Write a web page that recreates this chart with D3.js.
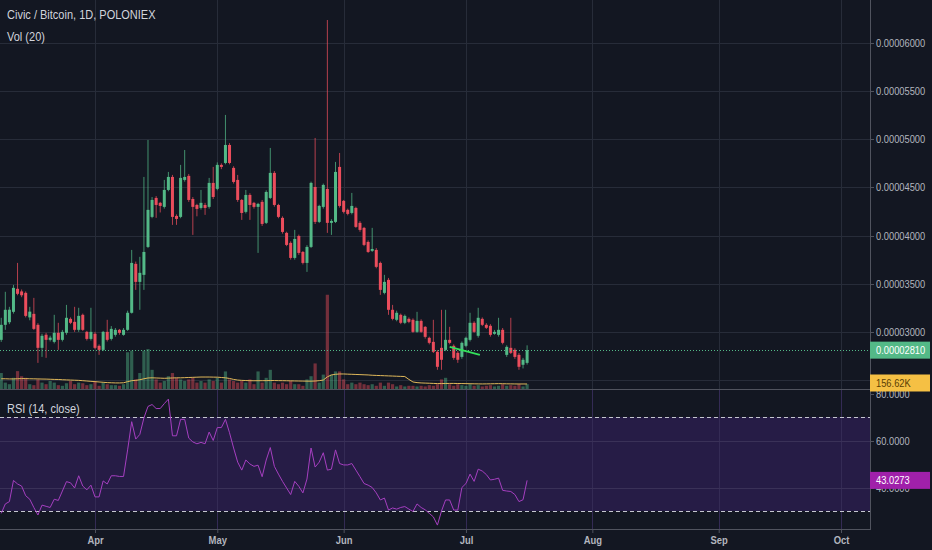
<!DOCTYPE html>
<html>
<head>
<meta charset="utf-8">
<script src="https://cdn.jsdelivr.net/npm/d3@7"></script>
<style>
html, body { margin: 0; padding: 0; background: #131722; }
svg { display: block; font-family: "Liberation Sans", Arial, sans-serif; }
</style>
</head>
<body>
<svg id="chart" width="932" height="550"></svg>
<script>
// daily candles, prices in satoshi (1e-8 BTC)
const startDate = "2018-03-09";
const opens = [2917,3073,3100,3208,3447,3420,3405,3150,3187,3073,
  2834,2970,2917,2896,2990,2917,2990,3135,3104,3021,
  3177,3000,2927,2980,2855,2813,3000,2927,2969,3021,
  2969,3021,3198,3706,3519,3592,3882,4194,4391,4340,
  4298,4474,4609,4204,4194,4578,4620,4380,4318,4287,
  4318,4298,4547,4485,4734,4754,4941,4703,4578,4370,
  4246,4422,4340,4298,4350,4132,4391,4651,4318,4184,
  4028,3924,3768,3996,3830,3716,3882,4505,4142,4298,
  4484,4132,4142,4713,4360,4267,4235,4287,4132,4080,
  3934,3841,3851,3716,3405,3540,3229,3125,3177,3094,
  3135,3125,3000,3114,3052,2938,2896,2793,2834,2813,
  2917,2855,2782,2740,2855,2917,3094,2959,3135,3073,
  3063,2980,2969,3021,2761,2834,2813,2761,2658,2678];
const highs = [3146,3416,3260,3488,3716,3440,3420,3260,3353,3090,
  2980,2990,2960,3177,3094,3020,3280,3150,3260,3250,
  3190,3010,3250,3000,2870,3010,3125,3060,3040,3030,
  3040,3220,3851,3730,3779,4609,4993,4400,4410,4350,
  4578,4661,4630,4220,4734,4889,4640,4400,4330,4474,
  4340,4599,4713,4760,4750,5253,4960,4720,4630,4380,
  4474,4440,4350,4340,4370,4470,4910,4670,4330,4200,
  4040,3940,4059,4010,3840,3900,4560,5014,4320,4540,
  6239,4170,4765,4858,4370,4280,4443,4300,4150,4090,
  3950,4080,3870,3730,3592,3560,3280,3220,3190,3180,
  3150,3140,3208,3130,3060,2950,3125,2810,3229,3229,
  3052,2870,2800,2900,2950,3198,3110,3250,3150,3090,
  3080,3020,3146,3040,2860,3146,2830,2780,2730,2860];
const lows = [2896,3021,3080,3190,3380,3360,3150,3120,3020,2678,
  2740,2730,2900,2880,2813,2900,2970,3080,3000,3000,
  3010,2910,2910,2820,2761,2800,2900,2910,2950,2970,
  2960,3010,3190,3436,3229,3436,3870,4180,4184,4240,
  4280,4460,4111,4111,4180,4560,4350,4007,4200,4270,
  4215,4280,4380,4470,4690,4740,4740,4540,4350,4163,
  4230,4163,4280,3820,4100,4120,4380,4300,4180,4020,
  3890,3750,3750,3800,3700,3623,3870,4120,4130,4280,
  4028,4007,4130,4290,4230,4210,4220,4080,4040,3890,
  3820,3830,3660,3384,3390,3177,3120,3110,3080,3080,
  3090,2990,2990,2990,2930,2870,2780,2606,2606,2800,
  2870,2710,2678,2720,2840,2900,2990,2940,3060,3030,
  2950,2970,2950,2870,2740,2770,2720,2606,2620,2660];
const closes = [3073,3229,3230,3457,3395,3380,3166,3210,3031,2834,
  2959,2917,2940,2990,2917,3000,3146,3094,3021,3166,
  3021,2927,3000,2834,2813,3000,2917,3031,3021,2990,
  3021,3198,3716,3519,3613,3830,4267,4370,4318,4308,
  4474,4609,4194,4173,4599,4609,4370,4298,4277,4340,
  4287,4547,4401,4734,4713,4941,4754,4557,4370,4235,
  4422,4318,4298,4329,4121,4453,4651,4318,4194,4038,
  3903,3768,3965,3820,3716,3882,4547,4142,4308,4526,
  4132,4152,4661,4308,4246,4225,4308,4090,4059,3903,
  3830,3861,3675,3436,3519,3229,3135,3198,3094,3166,
  3104,3000,3114,3000,2948,2886,2793,2637,2710,2917,
  2886,2730,2710,2886,2938,3094,3000,3146,3073,3042,
  2969,3000,3021,2886,2844,2782,2740,2637,2710,2810];
// volume in thousands
const volumes = [500,200,150,350,560,400,350,150,120,300,
  200,150,250,200,120,100,180,250,150,200,
  180,120,150,250,100,200,150,120,120,100,
  150,1150,1200,300,500,1200,1250,600,300,200,
  250,400,500,350,300,250,300,350,200,250,
  200,300,250,350,200,550,300,250,200,250,
  200,300,150,550,200,350,600,200,150,200,
  150,250,150,150,100,300,400,800,200,450,
  2950,450,550,550,300,150,200,150,200,150,
  120,150,100,200,100,200,150,80,120,80,
  100,100,80,100,80,120,100,150,300,350,
  150,100,150,120,100,150,100,120,80,100,
  120,80,100,150,100,120,100,150,80,150];
const volumeMA = [320,320,315,315,320,325,325,320,318,315,
  312,310,305,300,298,290,285,280,275,270,
  260,250,240,230,220,210,200,195,190,190,
  195,230,260,270,290,320,345,350,345,340,
  335,340,345,350,350,355,360,365,370,375,
  375,375,372,370,360,350,330,300,280,270,
  265,260,258,260,260,262,265,265,262,260,
  258,255,252,250,248,246,245,250,260,280,
  380,440,460,470,470,465,460,455,450,445,
  440,430,425,420,415,410,405,400,395,390,
  300,220,200,190,185,180,175,170,170,172,
  175,175,172,170,168,165,162,160,158,160,
  162,165,168,165,162,160,158,157,157,156.62];
const rsiValues = [29,33,34,43,41.5,40.6,36.5,35,31.5,28.3,
  32.5,32,31.5,35,34.5,38.5,42.5,42,39.8,45,
  40.6,39,41,36,36,42.8,41.5,45,45,44.7,
  44.7,56,68,60.6,62.6,69.6,74.5,75.3,73.6,73.6,
  75.7,77.6,62,62,69,69,61,59.4,58.6,59.2,
  58.6,63.6,60,65.5,65.5,69,63.3,56.8,50.8,47.4,
  51.7,50,49,49.5,44.6,51.7,57,49,45.7,42.6,
  39.8,37,42.6,40.5,37.7,43.6,56.8,48.7,50.8,54.8,
  47.4,47.8,56,50.2,49.6,49.6,50.2,47.4,44.6,41.7,
  41,40,37.7,34.7,35.5,30.4,31.3,30.8,31.5,31.9,
  30.8,29.8,33,31.5,30.5,29,27.5,24,30,34.7,
  34.7,30.4,30.4,40,41.7,45.7,42.6,47.8,47,45.5,
  43.2,43.5,44,38.8,38.5,38.3,37,34,34.8,43.0273];
const priceTicks = [2500,3000,3500,4000,4500,5000,5500,6000];
const rsiTicks = [40,60,80];
const monthTicks = ["2018-04-01","2018-05-01","2018-06-01","2018-07-01","2018-08-01","2018-09-01","2018-10-01"];
const trendLine = [{date:"2018-06-27T00:00", price:2844}, {date:"2018-07-04T10:00", price:2761}];

const UP = "#53b987", DOWN = "#eb4d5c";
const plotRight = 870;
const priceBottom = 389, rsiTop = 390, rsiBottom = 529;

const svg = d3.select("#chart");
const parse = d3.utcParse("%Y-%m-%d");
const parseT = d3.utcParse("%Y-%m-%dT%H:%M");
const day0 = parse(startDate);
const data = closes.map((c, i) => ({
  date: d3.utcDay.offset(day0, i),
  open: opens[i], high: highs[i], low: lows[i], close: c,
  vol: volumes[i], volMA: volumeMA[i], rsi: rsiValues[i]
}));

const x = d3.scaleUtc()
  .domain([parse("2018-04-01"), parse("2018-10-01")])
  .range([95, 841]);
const y = d3.scaleLinear().domain([2500, 6000]).range([380, 43]);
const yVol = d3.scaleLinear().domain([0, 3130]).range([priceBottom, priceBottom - 100]);
const yRsi = d3.scaleLinear().domain([30, 70]).range([511, 417]);

// narrow the glyphs a bit, the source font is condensed
function squeeze(sel, f) {
  sel.each(function() {
    const w = this.getComputedTextLength();
    d3.select(this).attr("textLength", w * f).attr("lengthAdjust", "spacingAndGlyphs");
  });
}

svg.append("rect").attr("width", 932).attr("height", 550).attr("fill", "#131722");

const defs = svg.append("defs");
defs.append("clipPath").attr("id", "clipPrice")
  .append("rect").attr("x", 0).attr("y", 0).attr("width", plotRight).attr("height", priceBottom);
defs.append("clipPath").attr("id", "clipRsi")
  .append("rect").attr("x", 0).attr("y", rsiTop).attr("width", plotRight).attr("height", rsiBottom - rsiTop);

// grid
const grid = svg.append("g").attr("stroke", "#272c39").attr("stroke-width", 1);
grid.selectAll(".vg").data(monthTicks).enter().append("line")
  .attr("x1", d => Math.round(x(parse(d))) + 0.5).attr("x2", d => Math.round(x(parse(d))) + 0.5)
  .attr("y1", 0).attr("y2", rsiBottom);
grid.selectAll(".hg").data(priceTicks).enter().append("line")
  .attr("x1", 0).attr("x2", plotRight)
  .attr("y1", d => Math.round(y(d)) + 0.5).attr("y2", d => Math.round(y(d)) + 0.5);

// rsi band
const rsiG = svg.append("g").attr("clip-path", "url(#clipRsi)");
rsiG.append("rect")
  .attr("x", 0).attr("width", plotRight)
  .attr("y", yRsi(70)).attr("height", yRsi(30) - yRsi(70))
  .attr("fill", "#261c46");
rsiG.selectAll(".vg").data(monthTicks).enter().append("line")
  .attr("x1", d => Math.round(x(parse(d))) + 0.5).attr("x2", d => Math.round(x(parse(d))) + 0.5)
  .attr("y1", rsiTop).attr("y2", rsiBottom)
  .attr("stroke", "#342b55");
rsiG.selectAll(".rg").data([40, 60]).enter().append("line")
  .attr("x1", 0).attr("x2", plotRight)
  .attr("y1", d => Math.round(yRsi(d)) + 0.5).attr("y2", d => Math.round(yRsi(d)) + 0.5)
  .attr("stroke", "#3a3158").attr("stroke-width", 1);
rsiG.selectAll(".band").data([70, 30]).enter().append("line")
  .attr("x1", 0).attr("x2", plotRight)
  .attr("y1", d => Math.round(yRsi(d)) + 0.5).attr("y2", d => Math.round(yRsi(d)) + 0.5)
  .attr("stroke", "#c5c7d0").attr("stroke-width", 1).attr("stroke-dasharray", "4,3");
rsiG.append("path").datum(data)
  .attr("fill", "none").attr("stroke", "#a53fc0").attr("stroke-width", 1)
  .attr("d", d3.line().x(d => x(d.date)).y(d => yRsi(d.rsi)));

// volume
const priceG = svg.append("g").attr("clip-path", "url(#clipPrice)");
priceG.selectAll(".vol").data(data).enter().append("rect")
  .attr("x", d => x(d.date) - 1.6).attr("width", 3.2)
  .attr("y", d => yVol(d.vol)).attr("height", d => priceBottom - yVol(d.vol))
  .attr("fill", d => d.close >= d.open ? UP : DOWN).attr("fill-opacity", 0.45);
priceG.append("path").datum(data)
  .attr("fill", "none").attr("stroke", "#e0b85a").attr("stroke-width", 1)
  .attr("d", d3.line().x(d => x(d.date)).y(d => yVol(d.volMA)));

// candles
const candles = priceG.selectAll(".candle").data(data).enter().append("g");
candles.append("line")
  .attr("x1", d => x(d.date)).attr("x2", d => x(d.date))
  .attr("y1", d => y(d.high)).attr("y2", d => y(d.low))
  .attr("stroke", d => d.close >= d.open ? UP : DOWN).attr("stroke-width", 1)
  .attr("stroke-opacity", 0.75);
candles.append("rect")
  .attr("x", d => x(d.date) - 1.5).attr("width", 3)
  .attr("y", d => y(Math.max(d.open, d.close)))
  .attr("height", d => Math.max(1, Math.abs(y(d.open) - y(d.close))))
  .attr("fill", d => d.close >= d.open ? UP : DOWN);

// last price dotted line
const last = data[data.length - 1];
priceG.append("line")
  .attr("x1", 0).attr("x2", plotRight)
  .attr("y1", Math.round(y(last.close)) + 0.5).attr("y2", Math.round(y(last.close)) + 0.5)
  .attr("stroke", UP).attr("stroke-width", 1).attr("stroke-dasharray", "1,2");

// trend line
priceG.append("line")
  .attr("x1", x(parseT(trendLine[0].date))).attr("y1", y(trendLine[0].price))
  .attr("x2", x(parseT(trendLine[1].date))).attr("y2", y(trendLine[1].price))
  .attr("stroke", "#33e05a").attr("stroke-width", 2);

// separators
svg.append("line").attr("x1", 0).attr("x2", plotRight).attr("y1", priceBottom + 0.5).attr("y2", priceBottom + 0.5)
  .attr("stroke", "#50535e");
svg.append("line").attr("x1", plotRight + 0.5).attr("x2", plotRight + 0.5).attr("y1", 0).attr("y2", rsiBottom + 1)
  .attr("stroke", "#50535e");

// price axis
const axisColor = "#b2b5be";
const fmtPrice = d => (d * 1e-8).toFixed(8);
const pAxis = svg.append("g");
pAxis.selectAll("line").data(priceTicks).enter().append("line")
  .attr("x1", plotRight).attr("x2", plotRight + 4)
  .attr("y1", d => Math.round(y(d)) + 0.5).attr("y2", d => Math.round(y(d)) + 0.5)
  .attr("stroke", "#50535e");
pAxis.selectAll("text").data(priceTicks).enter().append("text")
  .attr("x", plotRight + 6).attr("y", d => y(d)).attr("dy", "0.35em")
  .attr("fill", axisColor).attr("font-size", 11.5).text(fmtPrice)
  .call(squeeze, 0.81);

// rsi axis
const rAxis = svg.append("g");
rAxis.selectAll("line").data(rsiTicks).enter().append("line")
  .attr("x1", plotRight).attr("x2", plotRight + 4)
  .attr("y1", d => Math.round(yRsi(d)) + 0.5).attr("y2", d => Math.round(yRsi(d)) + 0.5)
  .attr("stroke", "#50535e");
rAxis.selectAll("text").data(rsiTicks).enter().append("text")
  .attr("x", plotRight + 6).attr("y", d => yRsi(d)).attr("dy", "0.35em")
  .attr("fill", axisColor).attr("font-size", 11.5).text(d => d.toFixed(4))
  .call(squeeze, 0.81);

// time axis
const tAxis = svg.append("g").attr("transform", `translate(0,${rsiBottom})`)
  .call(d3.axisBottom(x).tickValues(monthTicks.map(parse)).tickFormat(d3.utcFormat("%b")).tickSize(4).tickSizeOuter(0));
tAxis.select(".domain").attr("stroke", "#50535e").attr("d", `M0,0.5H${plotRight}`);
tAxis.selectAll(".tick line").attr("stroke", "#50535e");
tAxis.selectAll(".tick text").attr("fill", axisColor).attr("font-size", 11.5)
  .attr("font-family", "inherit").attr("font-weight", "bold").attr("y", 7)
  .call(squeeze, 0.82);

// value labels
function valueLabel(yPos, fill, textColor, txt) {
  const g = svg.append("g");
  g.append("rect").attr("x", plotRight).attr("y", yPos - 8.5).attr("width", 60).attr("height", 17).attr("fill", fill);
  g.append("text").attr("x", plotRight + 6).attr("y", yPos).attr("dy", "0.35em")
    .attr("fill", textColor).attr("font-size", 11.5).text(txt)
    .call(squeeze, 0.81);
}
valueLabel(y(last.close), UP, "#ffffff", fmtPrice(last.close));
valueLabel(yVol(last.volMA) - 1, "#f5c044", "#5a3e05", last.volMA.toFixed(2) + "K");
valueLabel(yRsi(last.rsi), "#a020aa", "#ffffff", last.rsi.toFixed(4));

// legends
svg.append("text").attr("x", 7).attr("y", 19).attr("fill", "#d1d4dc").attr("font-size", 12.5)
  .text("Civic / Bitcoin, 1D, POLONIEX").call(squeeze, 0.88);
svg.append("text").attr("x", 7).attr("y", 41).attr("fill", "#d1d4dc").attr("font-size", 12.5)
  .text("Vol (20)").call(squeeze, 0.88);
svg.append("text").attr("x", 7).attr("y", 413).attr("fill", "#d1d4dc").attr("font-size", 12.5)
  .text("RSI (14, close)").call(squeeze, 0.88);
</script>
</body>
</html>
